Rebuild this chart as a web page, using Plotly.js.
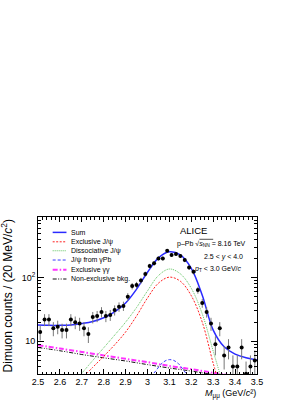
<!DOCTYPE html>
<html>
<head>
<meta charset="utf-8">
<script src="https://cdn.plot.ly/plotly-3.0.1.min.js"></script>
<style>html,body{margin:0;padding:0;background:#fff;}#chart{width:293px;height:401px;}</style>
</head>
<body>
<div id="chart"></div>
<script>
// ---- data ----
var binCenters = [2.51,2.53,2.55,2.57,2.59,2.61,2.63,2.65,2.67,2.69,2.71,2.73,2.75,2.77,2.79,2.81,2.83,2.85,2.87,2.89,
                  2.91,2.93,2.95,2.97,2.99,3.01,3.03,3.05,3.07,3.09,3.11,3.13,3.15,3.17,3.19,3.21,3.23,3.25,3.27,3.29,
                  3.31,3.33,3.35,3.37,3.39,3.41,3.43,3.45,3.47,3.49];
var counts = [14,22,22,16,17,15,15,22,20,19,16,13,24,25,29,25,26,31,35,36,
              50,74,77,90,114,153,168,201,201,265,227,235,219,189,145,124,64,40,29,19,
              9,16,6,8,4,4,8,3.1,4,5];
var countErr = [3.7,4.7,4.7,4.0,4.1,3.9,3.9,4.7,4.5,4.4,4.0,3.6,4.9,5.0,5.4,5.0,5.1,5.6,5.9,6.0,
                7.1,8.6,8.8,9.5,10.7,12.4,13.0,14.2,14.2,16.3,15.1,15.3,14.8,13.7,12.0,11.1,8.0,6.3,5.4,4.4,
                3.0,4.0,2.4,2.8,2.0,2.0,2.8,1.7,2.0,2.2];

var sumX = [2.50,2.55,2.60,2.65,2.70,2.75,2.80,2.85,2.90,2.95,3.00,3.05,3.10,3.15,3.20,3.25,3.30,3.35,3.40,3.45,3.50];
var sumY = [18,17.8,17.8,18,19,20.5,23.5,29,40,66,122,205,255,228,140,53,15,8.2,6.3,5.5,5.1];

var exclX = [2.70,2.75,2.80,2.85,2.90,2.95,3.00,3.05,3.10,3.15,3.20,3.25,3.30,3.33];
var exclY = [2.6,3.9,5.8,8.8,14,25,48,82,102,88,52,20,4.5,2.0];

var dissX = [2.68,2.75,2.80,2.85,2.90,2.95,3.00,3.05,3.10,3.15,3.20,3.25,3.30,3.34];
var dissY = [2.6,5.0,7.9,12.5,20,34,62,108,137,115,68,27,7,2.4];

var gpbX = [3.00,3.02,3.04,3.06,3.08,3.10,3.12,3.14,3.16,3.18,3.20];
var gpbY = [2.4,2.9,3.5,4.3,4.9,5.15,5.0,4.5,3.7,3.0,2.5];

var ggX = [2.5,2.6,2.7,2.8,2.9,3.0,3.1,3.2,3.3,3.4];
var ggY = [8.7,7.7,6.8,6.0,5.3,4.7,4.1,3.65,3.2,2.85];

var bkgX = [2.5,2.6,2.7,2.8,2.9,3.0,3.1,3.2,3.3,3.4];
var bkgY = [8.0,7.1,6.2,5.5,4.9,4.3,3.8,3.4,3.0,2.6];

var legendNames = ["Sum","Exclusive J/ψ","Dissociative J/ψ","J/ψ from γPb","Exclusive γγ","Non-exclusive bkg."];
var xTickVals = [2.5,2.6,2.7,2.8,2.9,3.0,3.1,3.2,3.3,3.4,3.5];
var yTickVals = [10,100];
var yTickText = ["10","10<sup>2</sup>"];
var yMinorVals = [3,4,5,6,7,8,9,20,30,40,50,60,70,80,90,200,300,400,500,600,700,800,900];

// ---- styles ----
var styles = [
  {color:'#2a2aff', width:1.5, dash:'solid'},
  {color:'#ff2020', width:1, dash:'2px,1.5px'},
  {color:'#5fc45f', width:1, dash:'1px,1px'},
  {color:'#3a3aff', width:1, dash:'3px,2px'},
  {color:'#ff33ff', width:2, dash:'5px,2px,1.5px,2px'},
  {color:'#111111', width:1, dash:'4px,1.5px,1px,1.5px,1px,1.5px'}
];

var curves = [[sumX,sumY],[exclX,exclY],[dissX,dissY],[gpbX,gpbY],[ggX,ggY],[bkgX,bkgY]];
var traces = [];
var order = [5,4,3,2,1,0];
order.forEach(function(i){
  traces.push({
    x: curves[i][0], y: curves[i][1], type:'scatter', mode:'lines',
    name: legendNames[i], showlegend:false, hoverinfo:'skip',
    line: {color: styles[i].color, width: styles[i].width, dash: styles[i].dash, shape:'spline', smoothing:1}
  });
});
traces.push({
  x: binCenters, y: counts, type:'scatter', mode:'markers', showlegend:false,
  marker:{color:'#000', size:4, symbol:'circle'},
  error_y:{type:'data', array: countErr, visible:true, color:'#777', thickness:1, width:0}
});

// ---- legend drawn by hand (compact spacing) ----
var legY = [0.902,0.842,0.785,0.726,0.664,0.605];
var shapes = [];
var annotations = [];
for (var i=0;i<legendNames.length;i++){
  shapes.push({type:'line', xref:'paper', yref:'paper', x0:0.067, x1:0.130, y0:legY[i], y1:legY[i],
    line:{color:styles[i].color, width:styles[i].width, dash:styles[i].dash}});
  annotations.push({xref:'paper', yref:'paper', x:0.142, y:legY[i], xanchor:'left', yanchor:'middle',
    text: legendNames[i], showarrow:false, font:{size:7, color:'#000'}});
}
// overline of the square root in sqrt(s_NN)
shapes.push({type:'line', xref:'paper', yref:'paper', x0:0.737, x1:0.800, y0:0.858, y1:0.858,
  line:{color:'#000', width:0.7}});

var font = "Liberation Sans, Arial, sans-serif";
annotations.push(
  {xref:'paper', yref:'paper', x:0.708, y:0.911, xanchor:'center', yanchor:'middle', showarrow:false,
   text:'ALICE', font:{size:9.5, color:'#000'}},
  {xref:'paper', yref:'paper', x:0.790, y:0.826, xanchor:'center', yanchor:'middle', showarrow:false,
   text:'p–Pb √<i>s</i><sub>NN</sub> = 8.16 TeV', font:{size:7, color:'#000'}},
  {xref:'paper', yref:'paper', x:0.845, y:0.747, xanchor:'center', yanchor:'middle', showarrow:false,
   text:'2.5 < <i>y</i> < 4.0', font:{size:7, color:'#000'}},
  {xref:'paper', yref:'paper', x:0.820, y:0.667, xanchor:'center', yanchor:'middle', showarrow:false,
   text:'<i>p</i><sub>T</sub> < 3.0 GeV/<i>c</i>', font:{size:7, color:'#000'}},
  {xref:'paper', yref:'paper', x:-0.142, y:0.5, xanchor:'center', yanchor:'middle', showarrow:false, textangle:-90,
   text:'Dimuon counts / (20 MeV/<i>c</i><sup>2</sup>)', font:{size:12, color:'#000'}},
  {xref:'paper', yref:'paper', x:1.0, y:-0.172, xanchor:'right', yanchor:'bottom', showarrow:false, borderpad:0,
   text:'<i>M</i><sub>μμ</sub> (GeV/<i>c</i>²)', font:{size:9, color:'#000'}}
);

var layout = {
  width:293, height:401,
  margin:{l:38, r:36, t:217, b:27, pad:0},
  paper_bgcolor:'#fff', plot_bgcolor:'#fff',
  font:{family:font, size:9, color:'#000'},
  showlegend:false,
  xaxis:{range:[2.5,3.5], tickmode:'array', tickvals:xTickVals, ticks:'inside', ticklen:5, tickcolor:'#000',
         showline:true, linecolor:'#000', linewidth:1, mirror:'allticks', showgrid:false, zeroline:false,
         tickfont:{size:9}, ticklabelstandoff:-1,
         minor:{dtick:0.02, tick0:2.5, ticks:'inside', ticklen:2.5, tickcolor:'#000', showgrid:false}},
  yaxis:{type:'log', range:[Math.log10(3.06), Math.log10(900)], tickmode:'array', tickvals:yTickVals, ticktext:yTickText,
         ticks:'inside', ticklen:6, tickcolor:'#000', showline:true, linecolor:'#000', linewidth:1, mirror:'allticks',
         showgrid:false, zeroline:false, tickfont:{size:9},
         minor:{tickmode:'array', tickvals:yMinorVals, ticks:'inside', ticklen:3, tickcolor:'#000', showgrid:false}},
  shapes:shapes,
  annotations:annotations
};

Plotly.newPlot('chart', traces, layout, {staticPlot:true, displayModeBar:false});
</script>
</body>
</html>
